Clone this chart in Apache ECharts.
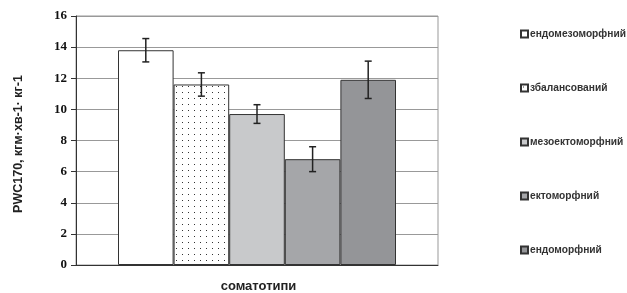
<!DOCTYPE html>
<html>
<head>
<meta charset="utf-8">
<script src="https://cdn.jsdelivr.net/npm/echarts@6/dist/echarts.min.js"></script>
<style>
  html, body { margin: 0; padding: 0; background: #fff; }
  #chart { width: 627px; height: 293px; }
</style>
</head>
<body>
<div id="chart"></div>
<script>
const seriesNames = ['ендомезоморфний', 'збалансований', 'мезоектоморфний', 'ектоморфний', 'ендоморфний']
const values = [13.8, 11.6, 9.7, 6.8, 11.9]
const errors = [0.75, 0.75, 0.6, 0.8, 1.2]
const yTicks = [0, 2, 4, 6, 8, 10, 12, 14, 16]

const barWidth = 55.6

// точковий візерунок для "збалансований"
function dotPattern() {
  const c = document.createElement('canvas')
  c.width = 6
  c.height = 6
  const ctx = c.getContext('2d')
  ctx.fillStyle = '#fff'
  ctx.fillRect(0, 0, 6, 6)
  ctx.fillStyle = '#333'
  ctx.fillRect(2, 2, 1, 1)
  return c
}

const fills = ['#ffffff', { image: dotPattern(), repeat: 'repeat' }, '#c8c9cb', '#a5a6a9', '#949598']

const chart = echarts.init(document.getElementById('chart'))

const barSeries = seriesNames.map((name, i) => ({
  name: name,
  type: 'bar',
  data: [values[i]],
  barWidth: barWidth,
  barGap: '0%',
  itemStyle: {
    color: fills[i],
    borderColor: '#333',
    borderWidth: 1
  },
  emphasis: { disabled: true }
}))

const errorData = values.map((v, i) => [0, v - errors[i], v + errors[i], i])

const option = {
  animation: false,
  grid: {
    left: 76,
    right: 189,
    top: 16,
    bottom: 28,
    outerBoundsMode: 'none',
    containLabel: false,
    show: true,
    borderColor: '#999',
    borderWidth: 1
  },
  legend: {
    data: seriesNames,
    orient: 'vertical',
    left: 515,
    top: 24,
    itemGap: 44,
    itemWidth: 7,
    itemHeight: 7,
    icon: 'rect',
    textStyle: {
      fontFamily: 'Arial, Liberation Sans',
      fontWeight: 'bold',
      fontSize: 10.2,
      color: '#333',
      padding: [0, 0, 0, -3]
    }
  },
  xAxis: {
    type: 'category',
    data: ['соматотипи'],
    name: 'соматотипи',
    nameLocation: 'middle',
    nameGap: 15,
    nameTextStyle: {
      fontFamily: 'Arial, Liberation Sans',
      fontWeight: 'bold',
      fontSize: 13,
      color: '#222',
      padding: [0, 0, 0, 3]
    },
    axisLabel: { show: false },
    axisTick: { show: false },
    axisLine: { lineStyle: { color: '#333', width: 1 } }
  },
  yAxis: {
    type: 'value',
    min: yTicks[0],
    max: yTicks[yTicks.length - 1],
    interval: 2,
    name: 'PWC170, кгм·хв-1· кг-1',
    nameLocation: 'middle',
    nameGap: 51,
    nameTextStyle: {
      fontFamily: 'Arial, Liberation Sans',
      fontWeight: 'bold',
      fontSize: 12.5,
      color: '#222',
      padding: [0, 7, 0, 0]
    },
    axisLine: { show: true, lineStyle: { color: '#333', width: 1 } },
    axisTick: { show: true, length: 5, lineStyle: { color: '#333' } },
    axisLabel: {
      margin: 9,
      fontFamily: 'Times New Roman, Liberation Serif',
      fontWeight: 'bold',
      fontSize: 13,
      color: '#111'
    },
    splitLine: { lineStyle: { color: '#999', width: 1 } }
  },
  series: [
    ...barSeries,
    {
      type: 'custom',
      name: 'error',
      z: 5,
      data: errorData,
      renderItem: function (params, api) {
        const idx = api.value(3)
        const lo = api.coord([0, api.value(1)])
        const hi = api.coord([0, api.value(2)])
        const x = lo[0] + (idx - 2) * barWidth
        const cap = 3.5
        const style = { stroke: '#222', lineWidth: 1.5 }
        return {
          type: 'group',
          children: [
            { type: 'line', shape: { x1: x, y1: lo[1], x2: x, y2: hi[1] }, style: style },
            { type: 'line', shape: { x1: x - cap, y1: lo[1], x2: x + cap, y2: lo[1] }, style: style },
            { type: 'line', shape: { x1: x - cap, y1: hi[1], x2: x + cap, y2: hi[1] }, style: style }
          ]
        }
      }
    }
  ]
}

chart.setOption(option)
</script>
</body>
</html>
